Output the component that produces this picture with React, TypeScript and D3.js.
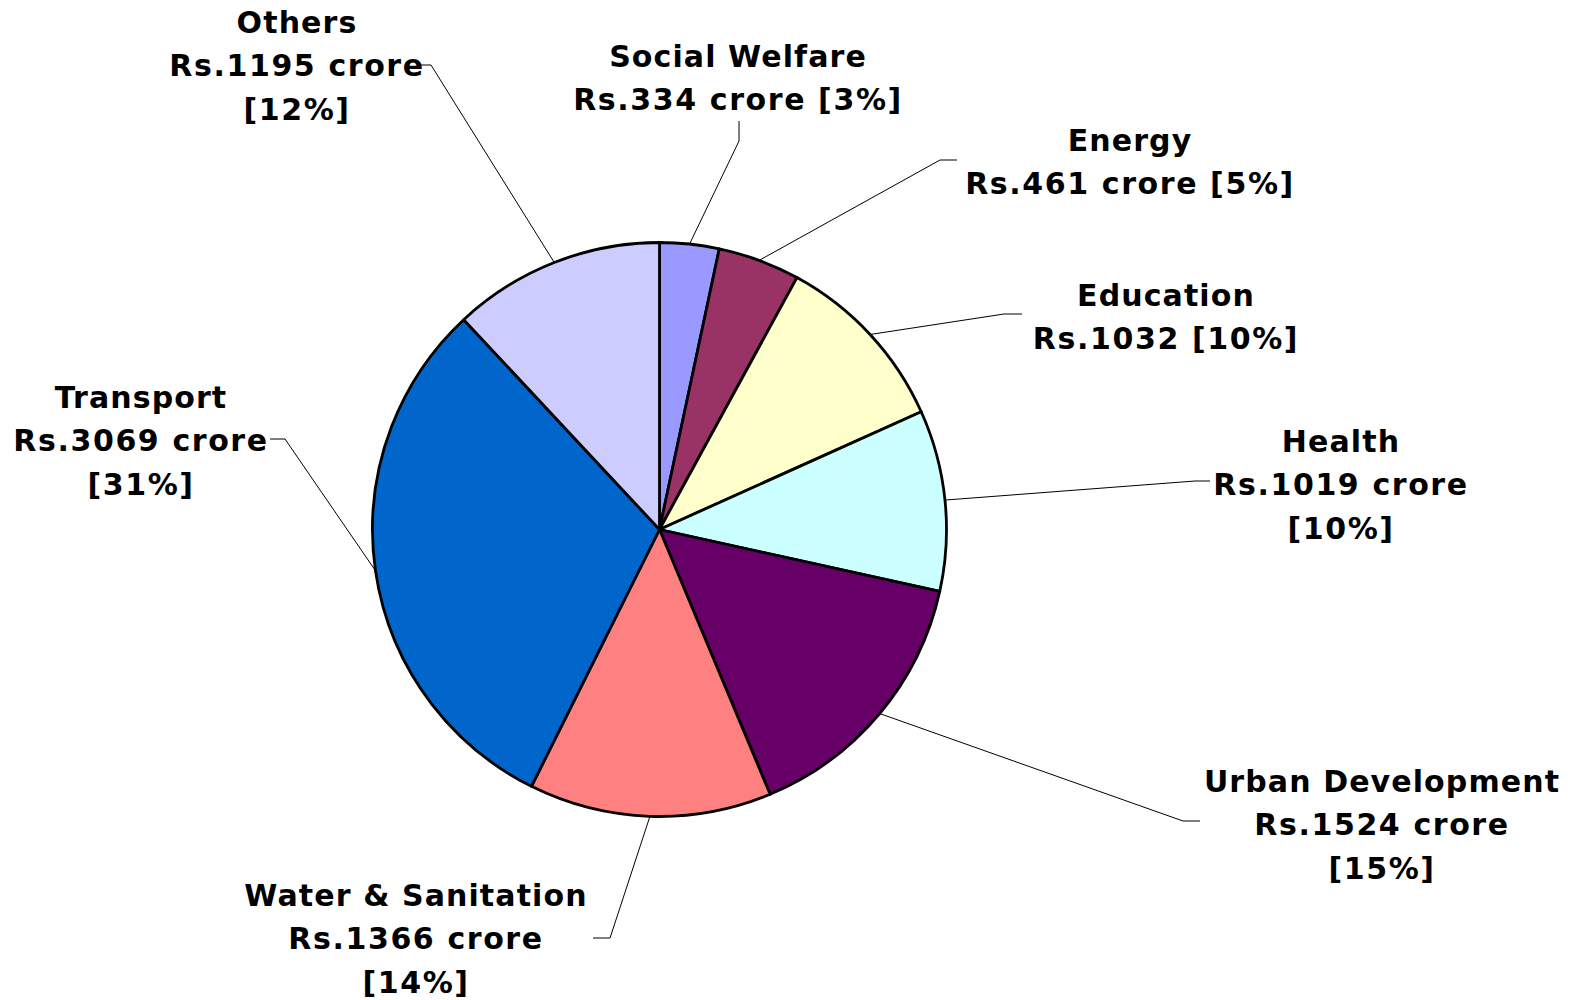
import React, { useEffect, useRef } from "react";
import * as d3 from "d3";

// sectors, clockwise from 12 o'clock
const sectors = ["Social Welfare", "Energy", "Education", "Health", "Urban Development", "Water & Sanitation", "Transport", "Others"];
const amounts = [334, 461, 1032, 1019, 1524, 1366, 3069, 1195];
const shares = ["3%", "5%", "10%", "10%", "15%", "14%", "31%", "12%"];
const colors = ["#9999FF", "#993366", "#FFFFCC", "#CCFFFF", "#660066", "#FF8080", "#0066CC", "#CCCCFF"];

// label text lines
const labelLines = [
  ["Social Welfare", "Rs.334 crore [3%]"],
  ["Energy", "Rs.461 crore [5%]"],
  ["Education", "Rs.1032 [10%]"],
  ["Health", "Rs.1019 crore", "[10%]"],
  ["Urban Development", "Rs.1524 crore", "[15%]"],
  ["Water & Sanitation", "Rs.1366 crore", "[14%]"],
  ["Transport", "Rs.3069 crore", "[31%]"],
  ["Others", "Rs.1195 crore", "[12%]"],
];

// label layout: text centre x, first line centre y, leader elbow and leader end
const labelLayout = [
  { x: 738, y: 56, elbow: [739, 141], end: [739, 121] },
  { x: 1130, y: 140, elbow: [940, 160], end: [957, 160] },
  { x: 1166, y: 295, elbow: [1004, 314], end: [1022, 314] },
  { x: 1341, y: 441, elbow: [1195, 481], end: [1210, 481] },
  { x: 1382, y: 781, elbow: [1183, 821], end: [1200, 821] },
  { x: 416, y: 895, elbow: [610, 938], end: [593, 938] },
  { x: 141, y: 397, elbow: [285, 439], end: [270, 439] },
  { x: 297, y: 22, elbow: [431, 65], end: [421, 65] },
];

const width = 1581;
const height = 1000;
const cx = 659.5;
const cy = 529.5;
const radius = 287;
const lineGap = 43.5;

function draw(node: SVGSVGElement) {
  const svg = d3.select(node);
  svg.selectAll("*").remove();

  const data = sectors.map((name, i) => ({ name, value: amounts[i], share: shares[i], i }));
  const pie = d3.pie<any>().sort(null).value(d => d.value);
  const arcs = pie(data);
  const arc = d3.arc<any>().innerRadius(0).outerRadius(radius);

  const g = svg.append("g").attr("transform", `translate(${cx},${cy})`);

  g.selectAll("path.slice")
    .data(arcs)
    .enter().append("path")
    .attr("class", "slice")
    .attr("d", arc)
    .attr("fill", d => colors[d.data.i])
    .attr("stroke", "#000")
    .attr("stroke-width", 2.8)
    .attr("stroke-linejoin", "round");

  // leader lines from the middle of each slice's rim
  arcs.forEach((a, i) => {
    const mid = (a.startAngle + a.endAngle) / 2;
    const px = cx + radius * Math.sin(mid);
    const py = cy - radius * Math.cos(mid);
    const L = labelLayout[i];
    svg.append("polyline")
      .attr("points", `${px},${py} ${L.elbow[0]},${L.elbow[1]} ${L.end[0]},${L.end[1]}`)
      .attr("fill", "none")
      .attr("stroke", "#000")
      .attr("stroke-width", 1);
  });

  // labels
  labelLines.forEach((lines, i) => {
    const L = labelLayout[i];
    const t = svg.append("text")
      .attr("text-anchor", "middle")
      .attr("font-family", "'DejaVu Sans', Verdana, sans-serif")
      .attr("font-weight", "bold")
      .attr("font-size", 30)
      .attr("fill", "#000");
    lines.forEach((s, k) => {
      t.append("tspan")
        .attr("x", L.x)
        .attr("y", L.y + k * lineGap)
        .attr("dy", "0.36em")
        .attr("letter-spacing", k === 0 ? 1.1 : 1.6)
        .text(s);
    });
  });
}

export default function App() {
  const ref = useRef<SVGSVGElement>(null);
  useEffect(() => {
    if (ref.current) draw(ref.current);
  }, []);
  return (
    <svg
      ref={ref}
      width={width}
      height={height}
      style={{ position: "absolute", left: 0, top: 0, background: "#fff" }}
    />
  );
}
